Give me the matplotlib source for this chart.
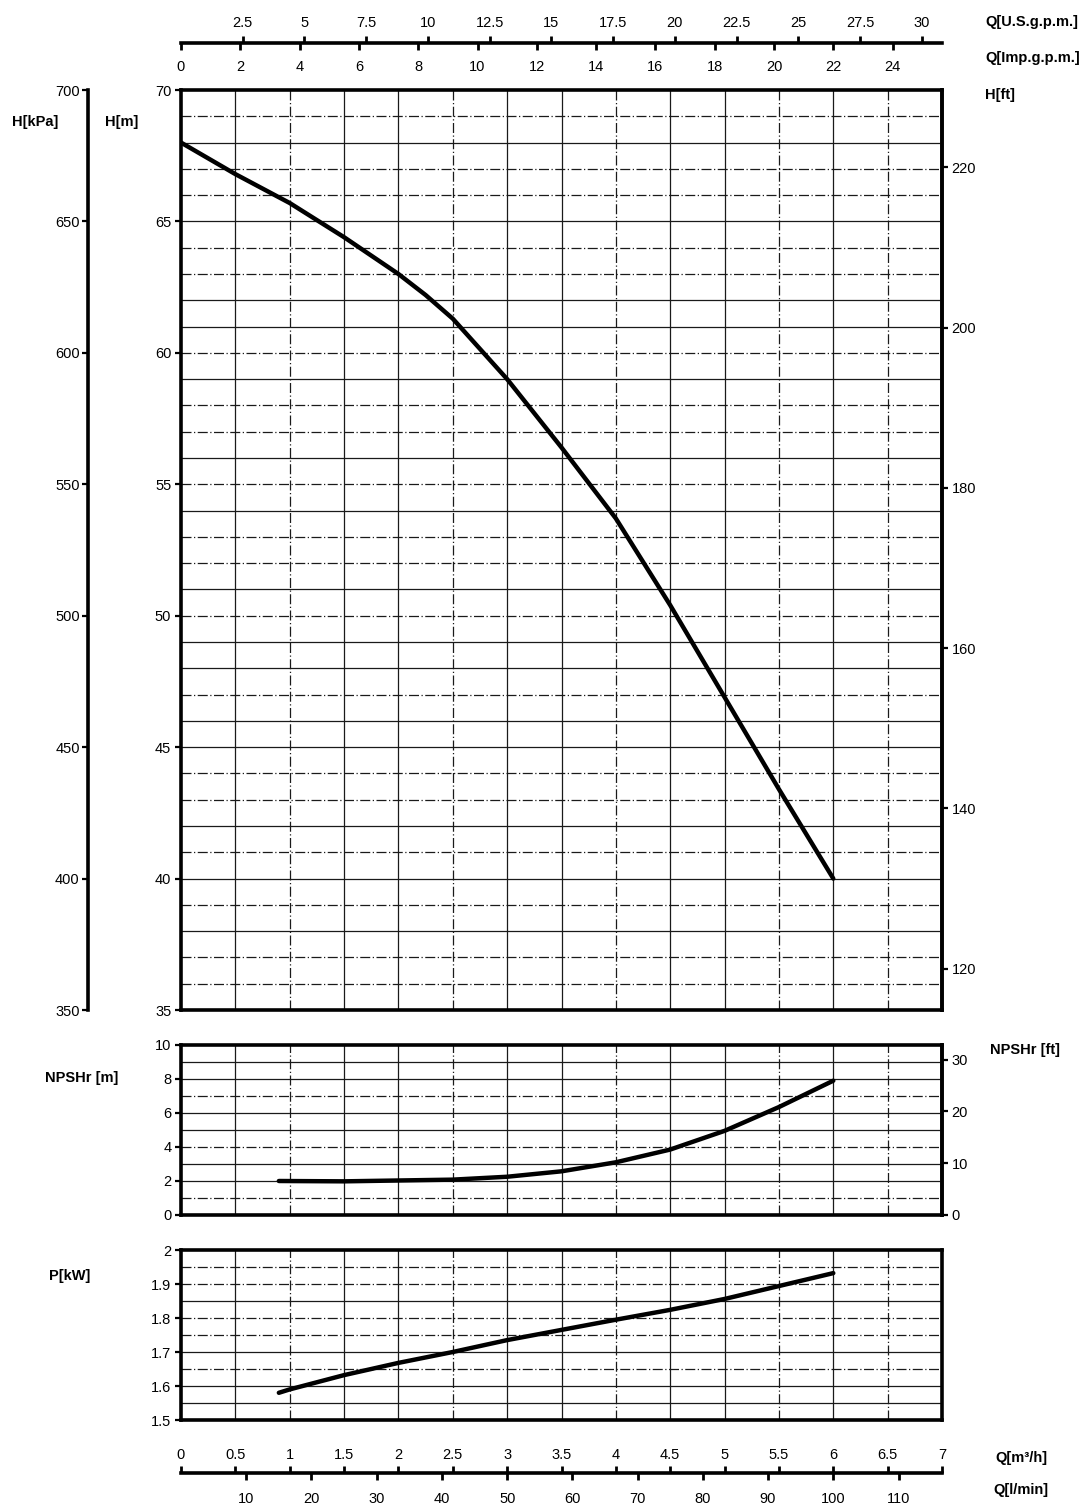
import numpy as np
import matplotlib
matplotlib.use("Agg")
import matplotlib.pyplot as plt

plt.rcParams['font.family'] = ['Liberation Sans', 'DejaVu Sans']

# ---------------- data ----------------
q_head = [0, 0.5, 1, 1.5, 2, 2.25, 2.5, 3, 3.5, 4, 4.5, 5, 5.5, 6]
head_m = [68.0, 66.8, 65.7, 64.4, 63.0, 62.2, 61.3, 59.0, 56.4, 53.7, 50.4, 46.9, 43.4, 40.0]

q_npsh = [0.9, 1.5, 2, 2.5, 3, 3.5, 4, 4.5, 5, 5.5, 6]
npsh_m = [2.0, 1.98, 2.03, 2.08, 2.25, 2.57, 3.1, 3.85, 4.95, 6.35, 7.9]

q_pow = [0.9, 1, 1.5, 2, 2.5, 3, 3.5, 4, 4.5, 5, 5.5, 6]
pow_kw = [1.58, 1.59, 1.632, 1.668, 1.70, 1.735, 1.765, 1.795, 1.824, 1.856, 1.894, 1.932]

h_ticks_m = [35, 40, 45, 50, 55, 60, 65, 70]
h_ticks_kpa = [350, 400, 450, 500, 550, 600, 650, 700]
h_ticks_ft = [120, 140, 160, 180, 200, 220]
npsh_ticks_m = [0, 2, 4, 6, 8, 10]
npsh_ticks_ft = [0, 10, 20, 30]
p_ticks = [1.5, 1.6, 1.7, 1.8, 1.9, 2.0]
p_labels = ['1.5', '1.6', '1.7', '1.8', '1.9', '2']
q_ticks_m3h = [0, 0.5, 1, 1.5, 2, 2.5, 3, 3.5, 4, 4.5, 5, 5.5, 6, 6.5, 7]
q_labels_m3h = ['0', '0.5', '1', '1.5', '2', '2.5', '3', '3.5', '4', '4.5', '5', '5.5', '6', '6.5', '7']
q_ticks_lmin = [10, 20, 30, 40, 50, 60, 70, 80, 90, 100, 110]
q_ticks_us = [2.5, 5, 7.5, 10, 12.5, 15, 17.5, 20, 22.5, 25, 27.5, 30]
q_labels_us = ['2.5', '5', '7.5', '10', '12.5', '15', '17.5', '20', '22.5', '25', '27.5', '30']
q_ticks_imp = [0, 2, 4, 6, 8, 10, 12, 14, 16, 18, 20, 22, 24]

# ---------------- layout ----------------
FW, FH = 1083, 1505
fig = plt.figure(figsize=(FW / 100, FH / 100), dpi=100)

def fx(px):
    return px / FW

def fy(py):
    return 1 - py / FH

L, R = 181, 942
W = fx(R) - fx(L)

TICKFS = 10.5
LABFS = 10.5
M2FT = 3.28084
DD = (0, (8, 2, 1, 2))

def style_frame(ax):
    for s in ax.spines.values():
        s.set_linewidth(2.6)
    ax.set_xticks([])

def grid(ax, ys, dd_y, xs, dd_x):
    for y in ys:
        ls = DD if y in dd_y else '-'
        ax.axhline(y, color='#1a1a1a', lw=0.9, ls=ls, zorder=1)
    for x in xs:
        ls = DD if x in dd_x else '-'
        ax.axvline(x, color='#1a1a1a', lw=0.9, ls=ls, zorder=1)

xs_grid = [round(v, 2) for v in np.arange(0.5, 7.0, 0.5)]
dd_x = {1.0, 2.5, 4.0, 5.5, 6.5}

# ---------------- main head panel ----------------
ax = fig.add_axes([fx(L), fy(1010), W, fy(90) - fy(1010)])
ax.set_xlim(0, 7)
ax.set_ylim(35, 70)
grid(ax, list(range(36, 70)),
     {69, 67, 66, 64, 63, 60, 58, 57, 55, 53, 52, 50, 47, 44, 43, 41, 39, 37, 36},
     xs_grid, dd_x)
ax.plot(q_head, head_m, color='black', lw=3.2, solid_capstyle='round',
        solid_joinstyle='round', zorder=5)
style_frame(ax)
ax.set_yticks(h_ticks_m)
ax.tick_params(axis='y', direction='out', length=4, width=1.6, labelsize=TICKFS, pad=3)
sec = ax.secondary_yaxis('right', functions=(lambda m: m * M2FT, lambda f: f / M2FT))
sec.set_yticks(h_ticks_ft)
sec.tick_params(direction='out', length=4, width=1.6, labelsize=TICKFS, pad=3)
sec.spines['right'].set_linewidth(2.6)

# kPa axis
axk = fig.add_axes([fx(88), fy(1010), 0.0001, fy(90) - fy(1010)])
axk.set_ylim(350, 700)
for s in ['right', 'top', 'bottom']:
    axk.spines[s].set_visible(False)
axk.spines['left'].set_linewidth(2.6)
axk.set_xticks([])
axk.set_yticks(h_ticks_kpa)
axk.tick_params(axis='y', direction='out', length=4, width=1.6, labelsize=TICKFS, pad=2)
axk.patch.set_visible(False)

# ---------------- NPSH panel ----------------
axn = fig.add_axes([fx(L), fy(1215), W, fy(1045) - fy(1215)])
axn.set_xlim(0, 7)
axn.set_ylim(0, 10)
grid(axn, list(range(1, 10)), {7, 4, 1}, xs_grid, dd_x)
axn.plot(q_npsh, npsh_m, color='black', lw=3.2, solid_capstyle='round',
         solid_joinstyle='round', zorder=5)
style_frame(axn)
axn.set_yticks(npsh_ticks_m)
axn.tick_params(axis='y', direction='out', length=4, width=1.6, labelsize=TICKFS, pad=3)
secn = axn.secondary_yaxis('right', functions=(lambda m: m * M2FT, lambda f: f / M2FT))
secn.set_yticks(npsh_ticks_ft)
secn.tick_params(direction='out', length=4, width=1.6, labelsize=TICKFS, pad=3)
secn.spines['right'].set_linewidth(2.6)

# ---------------- power panel ----------------
axp = fig.add_axes([fx(L), fy(1420), W, fy(1250) - fy(1420)])
axp.set_xlim(0, 7)
axp.set_ylim(1.5, 2.0)
grid(axp, [round(v, 2) for v in np.arange(1.55, 2.0, 0.05)],
     {1.95, 1.9, 1.8, 1.75, 1.65}, xs_grid, dd_x)
axp.plot(q_pow, pow_kw, color='black', lw=3.2, solid_capstyle='round',
         solid_joinstyle='round', zorder=5)
style_frame(axp)
axp.set_yticks(p_ticks)
axp.set_yticklabels(p_labels)
axp.tick_params(axis='y', direction='out', length=4, width=1.6, labelsize=TICKFS, pad=3)

# ---------------- top flow scales ----------------
axq = fig.add_axes([fx(L), fy(43), W, 0.0001])
axq.set_xlim(0, 7)
for s in ['left', 'right', 'top']:
    axq.spines[s].set_visible(False)
axq.spines['bottom'].set_linewidth(2.6)
axq.set_yticks([])
axq.set_xticks([])
axq.patch.set_visible(False)
us = axq.secondary_xaxis('top', functions=(lambda q: q * 4.40287, lambda g: g / 4.40287))
us.set_xticks(q_ticks_us)
us.set_xticklabels(q_labels_us)
us.tick_params(direction='out', length=5, width=2, labelsize=TICKFS, pad=4)
us.spines['top'].set_visible(False)
imp = axq.secondary_xaxis('bottom', functions=(lambda q: q * 3.66615, lambda g: g / 3.66615))
imp.set_xticks(q_ticks_imp)
imp.tick_params(direction='out', length=5, width=2, labelsize=TICKFS, pad=7)
imp.spines['bottom'].set_visible(False)

# ---------------- bottom flow scales ----------------
axb = fig.add_axes([fx(L), fy(1473), W, 0.0001])
axb.set_xlim(0, 7)
for s in ['left', 'right', 'top']:
    axb.spines[s].set_visible(False)
axb.spines['bottom'].set_linewidth(2.6)
axb.set_yticks([])
axb.set_xticks([])
axb.patch.set_visible(False)
m3 = axb.secondary_xaxis('top', functions=(lambda q: q, lambda q: q))
m3.set_xticks(q_ticks_m3h)
m3.set_xticklabels(q_labels_m3h)
m3.tick_params(direction='out', length=5, width=2, labelsize=TICKFS, pad=3)
m3.spines['top'].set_visible(False)
lm = axb.secondary_xaxis('bottom', functions=(lambda q: q * 1000 / 60, lambda l: l * 60 / 1000))
lm.set_xticks(q_ticks_lmin)
lm.tick_params(direction='out', length=5, width=2, labelsize=TICKFS, pad=9)
lm.spines['bottom'].set_visible(False)

# ---------------- axis titles ----------------
def label(px, py, s, ha='center'):
    fig.text(fx(px), fy(py), s, ha=ha, va='center', fontsize=LABFS, fontweight='bold')

label(35, 122, 'H[kPa]')
label(122, 122, 'H[m]')
label(985, 95, 'H[ft]', ha='left')
label(985, 22, 'Q[U.S.g.p.m.]', ha='left')
label(985, 58, 'Q[Imp.g.p.m.]', ha='left')
label(82, 1078, 'NPSHr [m]')
label(990, 1050, 'NPSHr [ft]', ha='left')
label(70, 1276, 'P[kW]')
label(995, 1458, 'Q[m³/h]', ha='left')
label(993, 1490, 'Q[l/min]', ha='left')

fig.savefig('out.png', dpi=100)
